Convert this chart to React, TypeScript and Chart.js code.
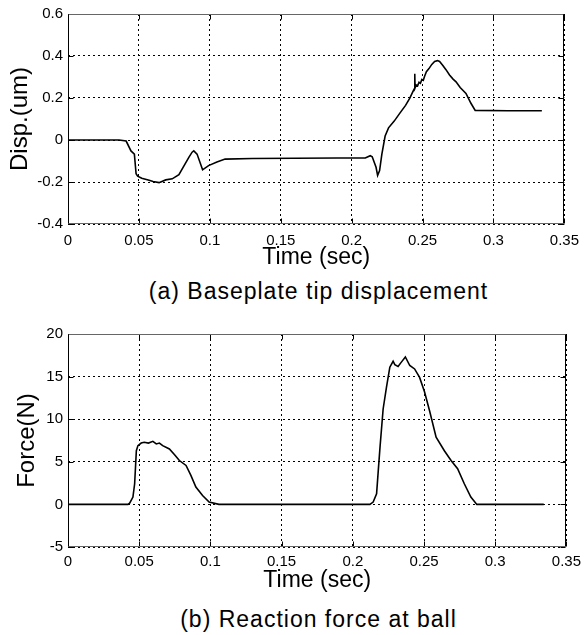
import React, { useEffect, useRef } from "react";
import { Chart, registerables } from "chart.js";

Chart.register(...registerables);

// ---------- data ----------
const X_TICKS = [0, 0.05, 0.1, 0.15, 0.2, 0.25, 0.3, 0.35];
const X_TICK_LABELS = ["0", "0.05", "0.1", "0.15", "0.2", "0.25", "0.3", "0.35"];
const DISP_TICK_LABELS = ["-0.4", "-0.2", "0", "0.2", "0.4", "0.6"];
const FORCE_TICK_LABELS = ["-5", "0", "5", "10", "15", "20"];

const DISP_T = [
  0, 0.036, 0.041, 0.0444, 0.0468, 0.048, 0.0491, 0.052, 0.0572, 0.06, 0.0642,
  0.0689, 0.0735, 0.0782, 0.0852, 0.0875, 0.0887, 0.091, 0.0949, 0.0991, 0.105,
  0.1108, 0.13, 0.16, 0.19, 0.2096, 0.2131, 0.2145, 0.2159, 0.2172, 0.2183,
  0.2197, 0.2213, 0.2236, 0.226, 0.23, 0.234, 0.238, 0.241, 0.2435, 0.2443,
  0.2445, 0.2447, 0.2455, 0.2465, 0.2475, 0.2485, 0.2495, 0.2505, 0.2515,
  0.2527, 0.2545, 0.2565, 0.2585, 0.2605, 0.262, 0.2643, 0.2665, 0.269, 0.2715,
  0.2736, 0.2765, 0.2806, 0.2841, 0.2871, 0.31, 0.3341,
];
const DISP_V = [
  0, 0, -0.005, -0.052, -0.067, -0.161, -0.172, -0.182, -0.192, -0.198, -0.203,
  -0.19, -0.185, -0.165, -0.083, -0.058, -0.052, -0.067, -0.142, -0.122, -0.105,
  -0.091, -0.088, -0.087, -0.086, -0.086, -0.075, -0.08, -0.106, -0.13, -0.169,
  -0.146, -0.067, 0.019, 0.058, 0.09, 0.128, 0.165, 0.199, 0.235, 0.245, 0.315,
  0.248, 0.262, 0.258, 0.275, 0.27, 0.288, 0.284, 0.305, 0.325, 0.34, 0.36,
  0.374, 0.378, 0.374, 0.355, 0.335, 0.31, 0.29, 0.277, 0.25, 0.222, 0.175,
  0.141, 0.139, 0.139,
];

const FORCE_T = [
  0, 0.0421, 0.0433, 0.0456, 0.0468, 0.048, 0.0491, 0.0514, 0.0535, 0.0565,
  0.0596, 0.062, 0.0642, 0.0665, 0.0712, 0.075, 0.0782, 0.0829, 0.0863, 0.0898,
  0.0945, 0.0991, 0.106, 0.212, 0.2143, 0.2167, 0.2179, 0.2191, 0.2213, 0.2236,
  0.226, 0.2283, 0.2295, 0.2318, 0.2341, 0.2369, 0.24, 0.2434, 0.2469, 0.2504,
  0.2539, 0.2585, 0.2643, 0.269, 0.2736, 0.2783, 0.2829, 0.2871, 0.3341,
];
const FORCE_V = [
  0, 0, 0.15, 0.86, 2.42, 6.3, 6.9, 7.2, 7.3, 7.2, 7.4, 7.1, 7.2, 6.9, 6.5, 5.8,
  5.15, 4.57, 3.4, 2.03, 1.05, 0.27, 0, 0, 0.27, 1.25, 4.0, 6.7, 11.2, 13.7,
  16.1, 16.8, 16.4, 16.2, 16.7, 17.3, 16.3, 15.9, 14.9, 13.2, 11.0, 7.9, 6.3,
  5.15, 4.18, 2.42, 0.86, 0, 0,
];

const FONT = "'Liberation Sans', Arial, Helvetica, sans-serif";

const framePlugin = {
  id: "matlabFrame",
  afterDraw(chart: any) {
    const { ctx, chartArea, scales } = chart;
    const { left, right, top, bottom } = chartArea;
    const L = Math.round(left) + 0.5;
    const R = Math.round(right) - 0.5;
    const T = Math.round(top) + 0.5;
    const B = Math.round(bottom) - 0.5;
    ctx.save();
    ctx.lineWidth = 1;
    ctx.strokeStyle = "#000";
    const seg = (x1: number, y1: number, x2: number, y2: number) => {
      ctx.beginPath();
      ctx.moveTo(x1, y1);
      ctx.lineTo(x2, y2);
      ctx.stroke();
    };
    scales.x.ticks.forEach((t: any) => {
      const px = Math.round(scales.x.getPixelForValue(t.value)) + 0.5;
      seg(px, B, px, B - 5);
      seg(px, T, px, T + 5);
    });
    scales.y.ticks.forEach((t: any) => {
      const py = Math.round(scales.y.getPixelForValue(t.value)) + 0.5;
      seg(L, py, L + 5, py);
      seg(R, py, R - 5, py);
    });
    ctx.strokeStyle = "#666";
    seg(L, T, R, T);
    seg(L, B, R, B);
    ctx.strokeStyle = "#000";
    seg(L, T, L, B);
    seg(R, T, R, B);
    ctx.restore();
  },
};

type PanelProps = {
  t: number[];
  v: number[];
  yMin: number;
  yMax: number;
  yStep: number;
  yLabels: string[];
  yTitle: string;
  height: number;
  padTop: number;
  padLeft: number;
  xAxisHeight: number;
  titlePad: number;
  tickPad: number;
};

function Panel(p: PanelProps) {
  const ref = useRef<HTMLCanvasElement | null>(null);
  useEffect(() => {
    if (!ref.current) return;
    const pts = p.t.map((x, i) => ({ x, y: p.v[i] }));
    const chart = new Chart(ref.current, {
      type: "line",
      data: {
        datasets: [
          {
            data: pts,
            borderColor: "#000",
            borderWidth: 1.6,
            pointRadius: 0,
            tension: 0,
            fill: false,
          },
        ],
      },
      options: {
        responsive: false,
        animation: false,
        layout: { padding: { top: p.padTop, left: p.padLeft, right: 18, bottom: 0 } },
        plugins: { legend: { display: false }, tooltip: { enabled: false }, title: { display: false } },
        scales: {
          x: {
            type: "linear",
            min: 0,
            max: 0.35,
            afterBuildTicks: (s: any) => {
              s.ticks = X_TICKS.map((value) => ({ value }));
            },
            afterFit: (s: any) => {
              s.height = p.xAxisHeight;
            },
            ticks: {
              autoSkip: false,
              maxRotation: 0,
              padding: p.tickPad,
              color: "#000",
              font: { family: FONT, size: 15 },
              callback: (_v: any, i: number) => X_TICK_LABELS[i],
            },
            grid: { color: "#000", lineWidth: 1, drawTicks: false },
            border: { display: false, dash: [2, 3] },
            title: {
              display: true,
              text: "Time (sec)",
              color: "#000",
              font: { family: FONT, size: 23, lineHeight: 1 },
              padding: { top: 0, bottom: p.titlePad },
            },
          },
          y: {
            type: "linear",
            min: p.yMin,
            max: p.yMax,
            afterBuildTicks: (s: any) => {
              s.ticks = p.yLabels.map((_l, i) => ({ value: p.yMin + i * p.yStep }));
            },
            afterFit: (s: any) => {
              s.width = 68 - p.padLeft;
            },
            ticks: {
              padding: 5,
              color: "#000",
              font: { family: FONT, size: 15 },
              callback: (_v: any, i: number) => p.yLabels[i],
            },
            grid: { color: "#000", lineWidth: 1, drawTicks: false },
            border: { display: false, dash: [2, 3] },
            title: {
              display: true,
              text: p.yTitle,
              color: "#000",
              font: { family: FONT, size: 24, lineHeight: 1 },
              padding: 0,
            },
          },
        },
      },
      plugins: [framePlugin],
    } as any);
    return () => chart.destroy();
  }, []);
  return <canvas ref={ref} width={587} height={p.height} style={{ display: "block" }} />;
}

const captionStyle: React.CSSProperties = {
  position: "absolute",
  left: 68,
  width: 501,
  textAlign: "center",
  fontFamily: FONT,
  fontSize: 23,
  lineHeight: "23px",
  letterSpacing: "1px",
  color: "#000",
  whiteSpace: "nowrap",
};

export default function App() {
  return (
    <div style={{ position: "absolute", left: 0, top: 0, width: 587, height: 635, background: "#fff", overflow: "hidden" }}>
      <div style={{ position: "absolute", left: 0, top: 0 }}>
        <Panel
          t={DISP_T}
          v={DISP_V}
          yMin={-0.4}
          yMax={0.6}
          yStep={0.2}
          yLabels={DISP_TICK_LABELS}
          yTitle="Disp.(um)"
          height={274}
          padTop={12}
          padLeft={8}
          xAxisHeight={50}
          titlePad={5}
          tickPad={8}
        />
      </div>
      <div style={{ ...captionStyle, top: 280 }}>(a) Baseplate tip displacement</div>
      <div style={{ position: "absolute", left: 0, top: 300 }}>
        <Panel
          t={FORCE_T}
          v={FORCE_V}
          yMin={-5}
          yMax={20}
          yStep={5}
          yLabels={FORCE_TICK_LABELS}
          yTitle="Force(N)"
          height={295}
          padTop={34}
          padLeft={15}
          xAxisHeight={48}
          titlePad={3}
          tickPad={6}
        />
      </div>
      <div style={{ ...captionStyle, top: 608 }}>(b) Reaction force at ball</div>
    </div>
  );
}
